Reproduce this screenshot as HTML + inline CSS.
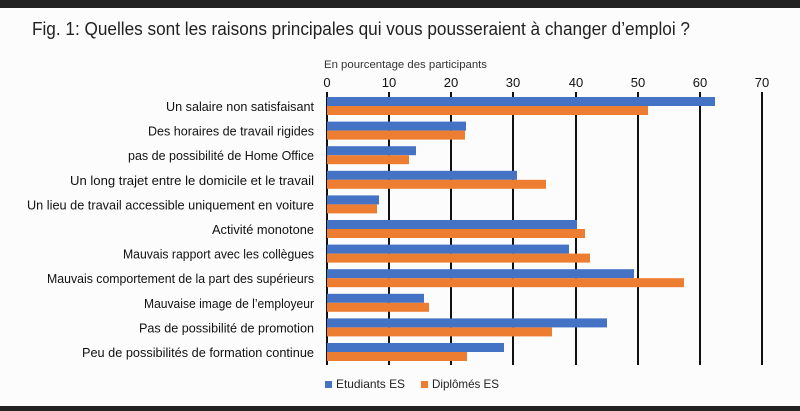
<!DOCTYPE html>
<html><head><meta charset="utf-8"><style>
html,body{margin:0;padding:0;background:#fcfcfc;}
svg{display:block;font-family:"Liberation Sans",sans-serif;}
</style></head><body>
<svg width="800" height="411" viewBox="0 0 800 411">
<rect x="0" y="0" width="800" height="411" fill="#fcfcfc"/>
<rect x="0" y="0" width="800" height="8" fill="#222"/>
<rect x="0" y="406" width="800" height="5" fill="#222"/>
<text x="32" y="35" font-size="18" fill="#222" textLength="658" lengthAdjust="spacingAndGlyphs">Fig. 1: Quelles sont les raisons principales qui vous pousseraient à changer d’emploi ?</text>
<text x="324" y="68" font-size="11" fill="#333" textLength="163" lengthAdjust="spacingAndGlyphs">En pourcentage des participants</text>
<g font-size="13" fill="#111" text-anchor="middle">
<text x="327" y="87">0</text><text x="389" y="87">10</text><text x="451" y="87">20</text><text x="513" y="87">30</text><text x="576" y="87">40</text><text x="638" y="87">50</text><text x="700" y="87">60</text><text x="762" y="87">70</text>
</g>
<g stroke="#111" stroke-width="2">
<line x1="327" y1="92" x2="327" y2="365"/><line x1="389" y1="92" x2="389" y2="365"/><line x1="451" y1="92" x2="451" y2="365"/><line x1="513" y1="92" x2="513" y2="365"/><line x1="576" y1="92" x2="576" y2="365"/><line x1="638" y1="92" x2="638" y2="365"/><line x1="700" y1="92" x2="700" y2="365"/><line x1="762" y1="92" x2="762" y2="365"/>
</g>
<g fill="#4472c4">
<rect x="327" y="97" width="388" height="9"/>
<rect x="327" y="121.6" width="139" height="9"/>
<rect x="327" y="146.2" width="89" height="9"/>
<rect x="327" y="170.8" width="190" height="9"/>
<rect x="327" y="195.4" width="52" height="9"/>
<rect x="327" y="220" width="250" height="9"/>
<rect x="327" y="244.6" width="242" height="9"/>
<rect x="327" y="269.2" width="307" height="9"/>
<rect x="327" y="293.8" width="97" height="9"/>
<rect x="327" y="318.4" width="280" height="9"/>
<rect x="327" y="343" width="177" height="9"/>
</g>
<g fill="#ed7d31">
<rect x="327" y="106" width="321" height="9"/>
<rect x="327" y="130.6" width="138" height="9"/>
<rect x="327" y="155.2" width="82" height="9"/>
<rect x="327" y="179.8" width="219" height="9"/>
<rect x="327" y="204.4" width="50" height="9"/>
<rect x="327" y="229" width="258" height="9"/>
<rect x="327" y="253.6" width="263" height="9"/>
<rect x="327" y="278.2" width="357" height="9"/>
<rect x="327" y="302.8" width="102" height="9"/>
<rect x="327" y="327.4" width="225" height="9"/>
<rect x="327" y="352" width="140" height="9"/>
</g>
<g font-size="13" fill="#111" text-anchor="end">
<text x="314" y="111" textLength="148" lengthAdjust="spacingAndGlyphs">Un salaire non satisfaisant</text>
<text x="314" y="135.6" textLength="166" lengthAdjust="spacingAndGlyphs">Des horaires de travail rigides</text>
<text x="314" y="160.2" textLength="186" lengthAdjust="spacingAndGlyphs">pas de possibilité de Home Office</text>
<text x="314" y="184.8" textLength="244" lengthAdjust="spacingAndGlyphs">Un long trajet entre le domicile et le travail</text>
<text x="314" y="209.4" textLength="287" lengthAdjust="spacingAndGlyphs">Un lieu de travail accessible uniquement en voiture</text>
<text x="314" y="234" textLength="102" lengthAdjust="spacingAndGlyphs">Activité monotone</text>
<text x="314" y="258.6" textLength="191" lengthAdjust="spacingAndGlyphs">Mauvais rapport avec les collègues</text>
<text x="314" y="283.2" textLength="267" lengthAdjust="spacingAndGlyphs">Mauvais comportement de la part des supérieurs</text>
<text x="314" y="307.8" textLength="170" lengthAdjust="spacingAndGlyphs">Mauvaise image de l’employeur</text>
<text x="314" y="332.4" textLength="175" lengthAdjust="spacingAndGlyphs">Pas de possibilité de promotion</text>
<text x="314" y="357" textLength="232" lengthAdjust="spacingAndGlyphs">Peu de possibilités de formation continue</text>
</g>
<rect x="325" y="381" width="7" height="7" fill="#4472c4"/>
<text x="336" y="388" font-size="12" fill="#222" textLength="69" lengthAdjust="spacingAndGlyphs">Etudiants ES</text>
<rect x="421" y="381" width="7" height="7" fill="#ed7d31"/>
<text x="432" y="388" font-size="12" fill="#222" textLength="67" lengthAdjust="spacingAndGlyphs">Diplômés ES</text>
</svg>
</body></html>
